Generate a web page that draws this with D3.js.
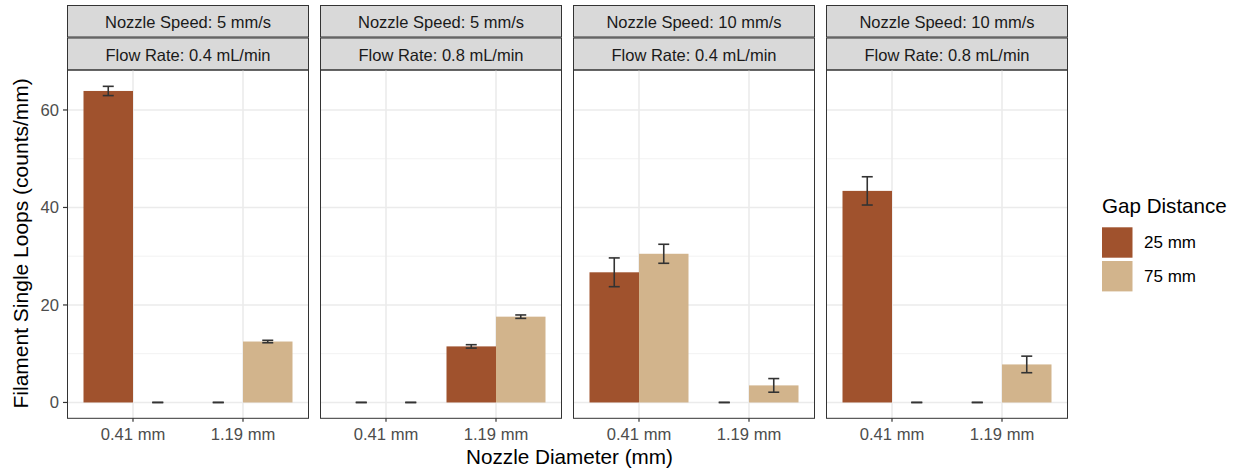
<!DOCTYPE html>
<html><head><meta charset="utf-8">
<script src="https://cdn.jsdelivr.net/npm/d3@7"></script>
<style>body{margin:0;background:#fff}svg{display:block;font-family:"Liberation Sans",Arial,sans-serif}</style>
</head><body><svg id="c" width="1239" height="472"></svg>
<script>
const speedLabels = ["Nozzle Speed: 5 mm/s","Nozzle Speed: 5 mm/s","Nozzle Speed: 10 mm/s","Nozzle Speed: 10 mm/s"];
const flowLabels = ["Flow Rate: 0.4 mL/min","Flow Rate: 0.8 mL/min","Flow Rate: 0.4 mL/min","Flow Rate: 0.8 mL/min"];
const diameters = ["0.41 mm","1.19 mm"];
const gaps = ["25 mm","75 mm"];
const gapColors = ["#A0522D","#D2B48C"];
const yTicks = [0,20,40,60];
// values[panel][diameter][gap]
const means = [
  [[63.9,0],[0,12.5]],
  [[0,0],[11.5,17.6]],
  [[26.7,30.5],[0,3.5]],
  [[43.4,0],[0,7.8]]
];
const errs = [
  [[0.95,0],[0,0.25]],
  [[0,0],[0.35,0.35]],
  [[2.95,1.95],[0,1.4]],
  [[2.9,0],[0,1.7]]
];

const svg = d3.select("#c");
const panelX = [67,320,573,826], panelW = 242;
const plotTop = 70, plotBottom = 418.3;
const y = d3.scaleLinear().domain([-3.25,68.2]).range([plotBottom, plotTop]);
const minorTicks = [10,30,50];

panelX.forEach((px,pi)=>{
  const g = svg.append("g").attr("transform",`translate(${px},0)`);
  const unit = panelW/2.2;
  const x = d3.scalePoint().domain(diameters).range([0.6*unit,1.6*unit]);
  const cx = d => x(d);
  // strips
  g.append("rect").attr("x",0.5).attr("y",5.5).attr("width",panelW-1).attr("height",31.5)
    .attr("fill","#d9d9d9").attr("stroke","#333").attr("stroke-width",1);
  g.append("rect").attr("x",0.5).attr("y",38).attr("width",panelW-1).attr("height",32)
    .attr("fill","#d9d9d9").attr("stroke","#333").attr("stroke-width",1);
  g.append("text").attr("x",panelW/2).attr("y",27.5).attr("text-anchor","middle")
    .attr("font-size",16.5).attr("fill","#1a1a1a").text(speedLabels[pi]);
  g.append("text").attr("x",panelW/2).attr("y",60.8).attr("text-anchor","middle")
    .attr("font-size",16.5).attr("fill","#1a1a1a").text(flowLabels[pi]);
  // grid
  minorTicks.forEach(t=>g.append("line").attr("x1",0).attr("x2",panelW).attr("y1",y(t)).attr("y2",y(t))
    .attr("stroke","#f2f2f2").attr("stroke-width",1));
  yTicks.forEach(t=>g.append("line").attr("x1",0).attr("x2",panelW).attr("y1",y(t)).attr("y2",y(t))
    .attr("stroke","#ebebeb").attr("stroke-width",1.6));
  diameters.forEach(d=>g.append("line").attr("x1",cx(d)).attr("x2",cx(d)).attr("y1",plotTop).attr("y2",plotBottom)
    .attr("stroke","#ebebeb").attr("stroke-width",1.6));
  // bars
  const bw = 0.45*unit;
  diameters.forEach((d,di)=>{
    gaps.forEach((gp,gi)=>{
      const v = means[pi][di][gi], e = errs[pi][di][gi];
      const bx = cx(d) - 0.45*unit + gi*bw;
      if (v>0) g.append("rect").attr("x",bx).attr("y",y(v)).attr("width",bw).attr("height",y(0)-y(v))
        .attr("fill",gapColors[gi]);
      const mx = bx + bw/2, cw = 5.5;
      const ec = "#333", ew = 1.6;
      g.append("line").attr("x1",mx-cw).attr("x2",mx+cw).attr("y1",y(v+e)).attr("y2",y(v+e)).attr("stroke",ec).attr("stroke-width",ew);
      g.append("line").attr("x1",mx-cw).attr("x2",mx+cw).attr("y1",y(v-e)).attr("y2",y(v-e)).attr("stroke",ec).attr("stroke-width",ew);
      if (e>0) g.append("line").attr("x1",mx).attr("x2",mx).attr("y1",y(v+e)).attr("y2",y(v-e)).attr("stroke",ec).attr("stroke-width",ew);
    });
  });
  // border
  g.append("rect").attr("x",0.5).attr("y",plotTop).attr("width",panelW-1).attr("height",plotBottom-plotTop)
    .attr("fill","none").attr("stroke","#333").attr("stroke-width",1);
  // x axis ticks
  diameters.forEach(d=>{
    g.append("line").attr("x1",cx(d)).attr("x2",cx(d)).attr("y1",plotBottom).attr("y2",plotBottom+3.5).attr("stroke","#333").attr("stroke-width",1.2);
    g.append("text").attr("x",cx(d)).attr("y",440).attr("text-anchor","middle").attr("font-size",16.6).attr("fill","#4d4d4d").text(d);
  });
});
// y axis
yTicks.forEach(t=>{
  svg.append("line").attr("x1",63).attr("x2",67).attr("y1",y(t)).attr("y2",y(t)).attr("stroke","#333").attr("stroke-width",1.2);
  svg.append("text").attr("x",59).attr("y",y(t)+6).attr("text-anchor","end").attr("font-size",16.6).attr("fill","#4d4d4d").text(t);
});
svg.append("text").attr("transform",`translate(28,${(75+411.7)/2}) rotate(-90)`).attr("text-anchor","middle")
  .attr("font-size",21).attr("fill","#000").text("Filament Single Loops (counts/mm)");
svg.append("text").attr("x",(466.7+672.3)/2).attr("y",463.5).attr("text-anchor","middle")
  .attr("font-size",20.7).attr("fill","#000").text("Nozzle Diameter (mm)");
// legend
svg.append("text").attr("x",1102).attr("y",212.7).attr("font-size",20.6).attr("fill","#000").text("Gap Distance");
gaps.forEach((gp,i)=>{
  svg.append("rect").attr("x",1102).attr("y",227.3+i*33.7).attr("width",30.5).attr("height",30.4).attr("fill",gapColors[i]);
  svg.append("text").attr("x",1144).attr("y",248.3+i*33.4).attr("font-size",17).attr("fill","#000").text(gp);
});
</script></body></html>
